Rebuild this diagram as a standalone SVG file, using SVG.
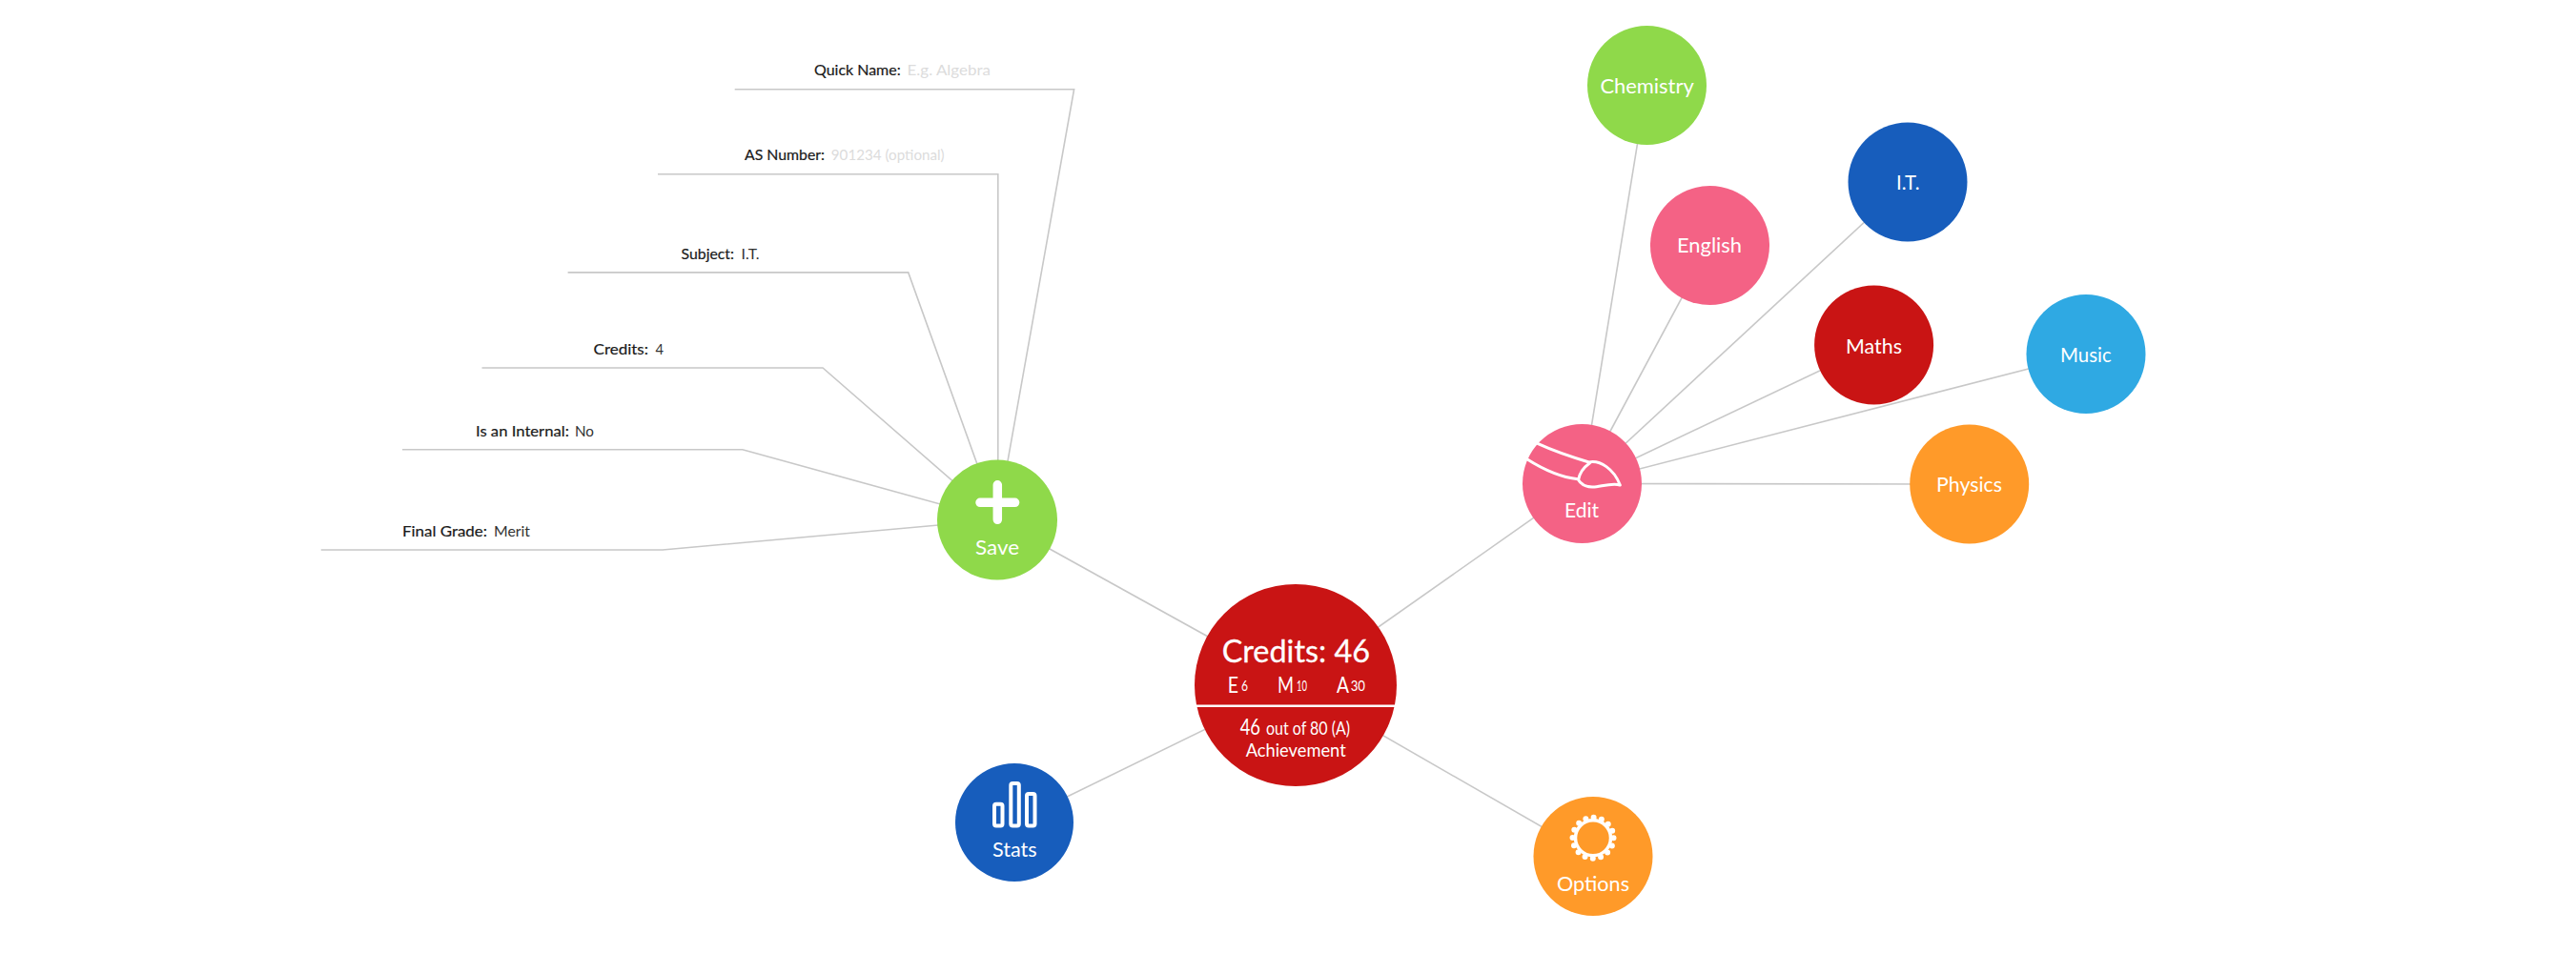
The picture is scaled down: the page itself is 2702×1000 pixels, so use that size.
<svg xmlns="http://www.w3.org/2000/svg" width="2702" height="1000" viewBox="0 0 2702 1000">
<style>
text{font-family:"Lato","Open Sans","Liberation Sans",sans-serif}
.bg{fill:#fff}
.line{fill:none;stroke:#c8c8c8;stroke-width:1.6}
.n{font-size:22px;fill:#fff}
.k{font-size:16px;fill:#1a1a1a;stroke:#1a1a1a;stroke-width:.2}
.v{font-size:16px;fill:#333}
.p{font-size:16px;fill:#dcdcdc}
.w{fill:#fff}
.ic{fill:none;stroke:#fff;stroke-linecap:round;stroke-linejoin:round}
.red{fill:#c91414}.pink{fill:#f46285}.green{fill:#8fd94a}.blue{fill:#175dbc}.orange{fill:#ff9a29}.sky{fill:#2fa9e3}
</style>
<rect class="bg" width="2702" height="1000"/>
<g id="connectors" class="line">
<path d="M1359 719L1046 545.5"/>
<path d="M1359 719L1659.5 507.5"/>
<path d="M1359 719L1064 863"/>
<path d="M1359 719L1671 898.5"/>
<path d="M1659.5 507.5L1727.5 89.4"/>
<path d="M1659.5 507.5L1793.5 257.5"/>
<path d="M1659.5 507.5L2001 191"/>
<path d="M1659.5 507.5L1965.6 362"/>
<path d="M1659.5 507.5L2188 371.5"/>
<path d="M1659.5 507.5L2065.7 508"/>
<path d="M770.7 93.7H1126.6L1046 545.5"/>
<path d="M690 182.7H1046.8V545.5"/>
<path d="M595.6 285.9H952.7L1046 545.5"/>
<path d="M505.5 386H863L1046 545.5"/>
<path d="M422 471.7H778.8L1046 545.5"/>
<path d="M336.7 577H695L1046 545.5"/>
</g>
<g id="field-quick-name"><text class="k" x="854" y="79" textLength="90.700" lengthAdjust="spacingAndGlyphs">Quick Name:</text><text class="p" x="951.500" y="79" textLength="87.500" lengthAdjust="spacingAndGlyphs">E.g. Algebra</text></g>
<g id="field-as-number"><text class="k" x="781" y="168" textLength="84" lengthAdjust="spacingAndGlyphs">AS Number:</text><text class="p" x="871.800" y="168" textLength="118.800" lengthAdjust="spacingAndGlyphs">901234 (optional)</text></g>
<g id="field-subject"><text class="k" x="714.500" y="272" textLength="55.500" lengthAdjust="spacingAndGlyphs">Subject:</text><text class="v" x="777.600" y="272" textLength="19" lengthAdjust="spacingAndGlyphs">I.T.</text></g>
<g id="field-credits"><text class="k" x="622.600" y="372" textLength="57.400" lengthAdjust="spacingAndGlyphs">Credits:</text><text class="v" x="687.500" y="372" textLength="8.500" lengthAdjust="spacingAndGlyphs">4</text></g>
<g id="field-internal"><text class="k" x="499" y="457.500" textLength="97.800" lengthAdjust="spacingAndGlyphs">Is an Internal:</text><text class="v" x="603" y="457.500" textLength="20" lengthAdjust="spacingAndGlyphs">No</text></g>
<g id="field-grade"><text class="k" x="422" y="563" textLength="89" lengthAdjust="spacingAndGlyphs">Final Grade:</text><text class="v" x="518" y="563" textLength="38" lengthAdjust="spacingAndGlyphs">Merit</text></g>
<g id="save"><circle class="green" cx="1046" cy="545.500" r="63"/><path class="ic" stroke-width="9.500" d="M1028 527.300H1064.600M1046.300 508.800V545.300"/><text class="n" x="1023" y="581.700" textLength="46" lengthAdjust="spacingAndGlyphs">Save</text></g>
<g id="edit"><circle class="pink" cx="1659.500" cy="507.500" r="62.500"/>
<g transform="translate(1560 430) scale(.3333)"><path class="ic" stroke-width="9" stroke-linecap="butt" d="M160 107C210 130 270 150 320 165C355 158 398 185 418 237C390 228 350 245 330 243C310 243 295 235 285 218C230 212 180 190 125 155M323 167C305 180 290 200 287 220"/></g>
<text class="n" x="1641" y="543.300" textLength="36" lengthAdjust="spacingAndGlyphs">Edit</text></g>
<g id="stats"><circle class="blue" cx="1064" cy="863" r="62"/><g class="ic" stroke-width="4"><rect x="1043" y="843.700" width="8.500" height="22.700" rx="2"/><rect x="1060.300" y="822" width="8.500" height="44.400" rx="2"/><rect x="1077" y="833" width="8.500" height="33.400" rx="2"/></g><text class="n" x="1041" y="899" textLength="46.700" lengthAdjust="spacingAndGlyphs">Stats</text></g>
<g id="options"><circle class="orange" cx="1671" cy="898.500" r="62.500"/><circle cx="1671" cy="879.300" r="18.500" fill="none" stroke="#fff" stroke-width="3.500"/><circle cx="1671" cy="879.300" r="21.500" fill="none" stroke="#fff" stroke-width="6" stroke-linecap="round" stroke-dasharray="0 8.443"/><text class="n" x="1633" y="935" textLength="76" lengthAdjust="spacingAndGlyphs">Options</text></g>
<g id="credits"><circle class="red" cx="1359" cy="719" r="106"/>
<text class="w" font-size="33" stroke="#fff" stroke-width=".3" x="1281.700" y="695" textLength="155.300" lengthAdjust="spacingAndGlyphs">Credits: 46</text>
<text class="w" font-size="23" x="1287.700" y="727" textLength="11.300" lengthAdjust="spacingAndGlyphs">E</text><text class="w" font-size="16" x="1302" y="725" textLength="7" lengthAdjust="spacingAndGlyphs">6</text>
<text class="w" font-size="23" x="1340" y="727" textLength="17" lengthAdjust="spacingAndGlyphs">M</text><text class="w" font-size="16" x="1360" y="725" textLength="11" lengthAdjust="spacingAndGlyphs">10</text>
<text class="w" font-size="23" x="1402" y="727" textLength="13" lengthAdjust="spacingAndGlyphs">A</text><text class="w" font-size="16" x="1416.700" y="725" textLength="15.300" lengthAdjust="spacingAndGlyphs">30</text>
<path d="M1255 740.700H1463" stroke="#fff" stroke-width="2.500"/>
<text class="w" font-size="23" x="1300.700" y="771" textLength="21.300" lengthAdjust="spacingAndGlyphs">46</text><text class="w" font-size="19" x="1328" y="771" textLength="88" lengthAdjust="spacingAndGlyphs">out of 80 (A)</text>
<text class="w" font-size="19" x="1306.700" y="794" textLength="105" lengthAdjust="spacingAndGlyphs">Achievement</text></g>
<g id="chemistry"><circle class="green" cx="1727.500" cy="89.400" r="62.500"/><text class="n" x="1678.400" y="97.600" textLength="98.300" lengthAdjust="spacingAndGlyphs">Chemistry</text></g>
<g id="english"><circle class="pink" cx="1793.500" cy="257.500" r="62.500"/><text class="n" x="1759" y="265" textLength="68" lengthAdjust="spacingAndGlyphs">English</text></g>
<g id="it"><circle class="blue" cx="2001" cy="191" r="62.500"/><text class="n" x="1989" y="199" textLength="24.500" lengthAdjust="spacingAndGlyphs">I.T.</text></g>
<g id="maths"><circle class="red" cx="1965.600" cy="362" r="62.500"/><text class="n" x="1936" y="370.500" textLength="59" lengthAdjust="spacingAndGlyphs">Maths</text></g>
<g id="music"><circle class="sky" cx="2188" cy="371.500" r="62.500"/><text class="n" x="2161" y="379.600" textLength="53.700" lengthAdjust="spacingAndGlyphs">Music</text></g>
<g id="physics"><circle class="orange" cx="2065.700" cy="508" r="62.500"/><text class="n" x="2031" y="516" textLength="69" lengthAdjust="spacingAndGlyphs">Physics</text></g>
</svg>
